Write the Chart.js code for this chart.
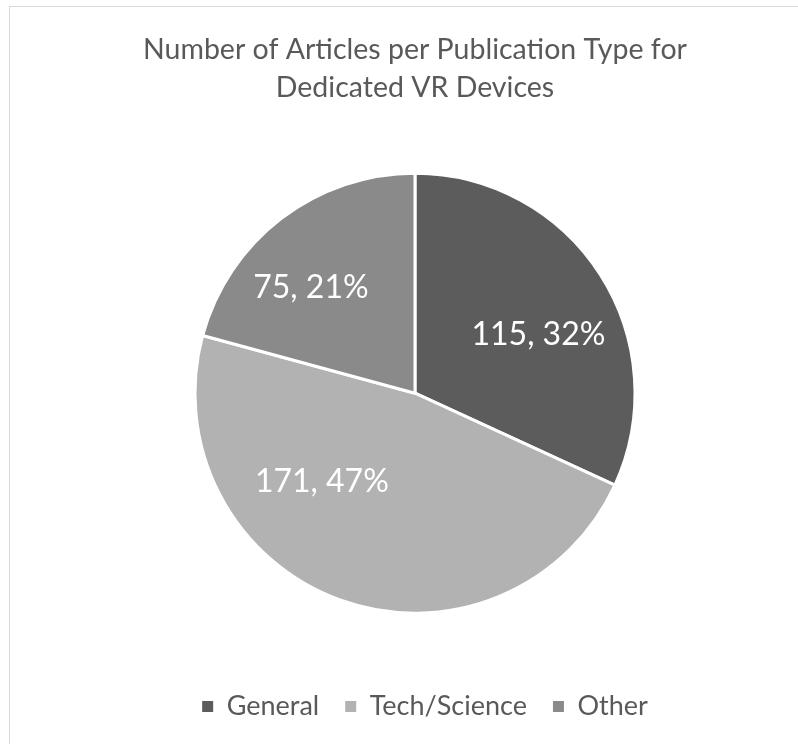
<!DOCTYPE html>
<html>
<head>
<meta charset="utf-8">
<script src="https://cdn.jsdelivr.net/npm/chart.js@4/dist/chart.umd.min.js"></script>
<style>
    html, body { margin: 0; padding: 0; background: #fff; }
    #wrap { position: relative; width: 798px; height: 744px; overflow: hidden; }
    #frame { position: absolute; left: 9px; top: 6px; width: 820px; height: 760px; border: 1px solid #d9d9d9; }
    #chart { position: absolute; left: 0; top: 0; }
</style>
</head>
<body>
<div id="wrap">
    <div id="frame"></div>
    <canvas id="chart" width="798" height="744"></canvas>
</div>
<script>
// --- Data ---
const titleLines = ['Number of Articles per Publication Type for', 'Dedicated VR Devices'];
const categories = ['General', 'Tech/Science', 'Other'];
const articleCounts = [115, 171, 75];
const sliceColors = ['#5c5c5c', '#b2b2b2', '#8a8a8a'];

// where each label sits inside its slice (fraction of sweep, fraction of radius)
const labelPlacement = [
    { along: 0.565, out: 0.62 },
    { along: 0.655, out: 0.585 },
    { along: 0.405, out: 0.675 }
];

const FONT = 'Lato, "Open Sans", sans-serif';

// --- Slice labels "value, pct%" ---
const sliceLabels = {
    id: 'sliceLabels',
    afterDatasetsDraw(chart) {
        const meta = chart.getDatasetMeta(0);
        const values = chart.data.datasets[0].data;
        const total = values.reduce((s, v) => s + v, 0);
        const ctx = chart.ctx;
        ctx.save();
        ctx.fillStyle = '#ffffff';
        ctx.font = '32px ' + FONT;
        ctx.textAlign = 'center';
        ctx.textBaseline = 'middle';
        meta.data.forEach((arc, i) => {
            const p = arc.getProps(['x', 'y', 'startAngle', 'endAngle', 'outerRadius'], true);
            const place = labelPlacement[i];
            const a = p.startAngle + place.along * (p.endAngle - p.startAngle);
            const r = place.out * p.outerRadius;
            const pct = Math.round(values[i] / total * 100);
            ctx.fillText(values[i] + ', ' + pct + '%', p.x + Math.cos(a) * r, p.y + Math.sin(a) * r);
        });
        ctx.restore();
    }
};

// nudge the legend a little to the right, like the original
const legendNudge = {
    id: 'legendNudge',
    afterLayout(chart) {
        chart.legend.left += 10;
        chart.legend.right += 10;
    }
};

new Chart(document.getElementById('chart'), {
    type: 'pie',
    data: {
        labels: categories,
        datasets: [{
            data: articleCounts,
            backgroundColor: sliceColors,
            borderColor: '#ffffff',
            borderWidth: 3,
            radius: 220
        }]
    },
    options: {
        responsive: false,
        animation: false,
        layout: { padding: { top: 31, left: 32, right: 0, bottom: 14 } },
        plugins: {
            title: {
                display: true,
                text: titleLines,
                color: '#595959',
                font: { family: FONT, size: 28.5, weight: 'normal', lineHeight: 1.34 },
                padding: { top: 0, bottom: 12 }
            },
            legend: {
                position: 'bottom',
                labels: {
                    color: '#595959',
                    font: { family: FONT, size: 27 },
                    boxWidth: 11,
                    boxHeight: 11,
                    padding: 26,
                    generateLabels(chart) {
                        const ds = chart.data.datasets[0];
                        return chart.data.labels.map((label, i) => ({
                            text: label,
                            fillStyle: ds.backgroundColor[i],
                            strokeStyle: ds.backgroundColor[i],
                            lineWidth: 0,
                            fontColor: '#595959',
                            hidden: false,
                            index: i
                        }));
                    }
                }
            },
            tooltip: { enabled: false }
        }
    },
    plugins: [sliceLabels, legendNudge]
});
</script>
</body>
</html>
